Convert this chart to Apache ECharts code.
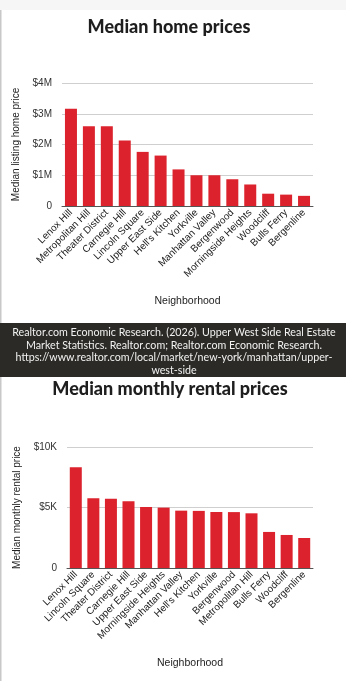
<!DOCTYPE html>
<html>
<head>
<meta charset="utf-8">
<script src="https://cdn.jsdelivr.net/npm/echarts@6/dist/echarts.min.js"></script>
<style>
html,body{margin:0;padding:0;background:#fff;}
#c{width:346px;height:681px;}
</style>
</head>
<body>
<div id="c"></div>
<script>
const homeCategories = ["Lenox Hill","Metropolitan Hill","Theater District","Carnegie Hill","Lincoln Square","Upper East Side","Hell's Kitchen","Yorkville","Manhattan Valley","Bergenwood","Morningside Heights","Woodcliff","Bulls Ferry","Bergenline"];
const homePrices = [3160000,2590000,2590000,2130000,1760000,1640000,1190000,1000000,1000000,870000,700000,400000,370000,330000];
const homeTicks = ["0","$1M","$2M","$3M","$4M"];

const rentCategories = ["Lenox Hill","Lincoln Square","Theater District","Carnegie Hill","Upper East Side","Morningside Heights","Manhattan Valley","Hell's Kitchen","Yorkville","Bergenwood","Metropolitan Hill","Bulls Ferry","Woodcliff","Bergenline"];
const rentPrices = [8320,5760,5730,5510,5040,4990,4740,4720,4630,4620,4520,2980,2730,2480];
const rentTicks = ["0","$5K","$10K"];

const titles = ["Median home prices","Median monthly rental prices"];
const sourceLines = [
  "Realtor.com Economic Research. (2026). Upper West Side Real Estate",
  "Market Statistics. Realtor.com; Realtor.com Economic Research.",
  "https://www.realtor.com/local/market/new-york/manhattan/upper-",
  "west-side"
];

const chart = echarts.init(document.getElementById('c'), null, {renderer:'canvas'});
const axisFont = 'Liberation Sans, Arial, sans-serif';
const barColor = '#dc232d';

function xAxisCfg(cats, idx){
  return {
    type:'category', gridIndex: idx, data: cats,
    axisTick:{show:false},
    axisLine:{lineStyle:{color:'#555',width:1}},
    axisLabel:{rotate:45, interval:0, fontSize:10, color:'#222', fontFamily:axisFont, margin:5},
    name:'Neighborhood', nameLocation:'middle', nameGap: 90,
    nameTextStyle:{fontSize:10.5, color:'#222', fontFamily:axisFont}
  };
}
function yAxisCfg(idx, max, interval, ticks, nm){
  return {
    type:'value', gridIndex: idx, min:0, max:max, interval:interval,
    axisLine:{show:false}, axisTick:{show:false},
    splitLine:{lineStyle:{color:'#cfcfcf',width:1}},
    axisLabel:{fontSize:10, color:'#333', fontFamily:axisFont, margin:10,
      formatter:function(v){ return ticks[Math.round(v/interval)]; }},
    name:nm, nameLocation:'middle', nameGap: 40,
    nameTextStyle:{fontSize:10, color:'#222', fontFamily:axisFont}
  };
}

const titleFont = '900 18px "Lato", "Open Sans", sans-serif';
const graphics = [
  {type:'rect', shape:{x:0,y:0,width:346,height:10}, style:{fill:'#f6f6f6'}, silent:true},
  {type:'rect', shape:{x:0,y:10,width:1.5,height:671}, style:{fill:'#c8c8c8'}, silent:true},
  {type:'text', x:169, y:27, style:{text:titles[0], font:titleFont, fill:'#1e1e1e', textAlign:'center', textVerticalAlign:'middle'}},
  {type:'text', x:170, y:389, style:{text:titles[1], font:titleFont, fill:'#1e1e1e', textAlign:'center', textVerticalAlign:'middle'}},
  {type:'rect', shape:{x:0,y:323,width:346,height:54}, style:{fill:'#2b2a26'}, silent:true}
];
const lineYs = [333,345.5,358,370.5];
sourceLines.forEach(function(t,i){
  graphics.push({type:'text', x:174, y:lineYs[i], style:{text:t, font:'10.7px "Lato", "Noto Sans", sans-serif', fill:'#f2f2f2', textAlign:'center', textVerticalAlign:'middle'}});
});

chart.setOption({
  animation:false,
  backgroundColor:'#ffffff',
  grid:[
    {left:62, right:33, top:83, height:123},
    {left:67, right:33, top:447, height:121}
  ],
  xAxis:[xAxisCfg(homeCategories,0), xAxisCfg(rentCategories,1)],
  yAxis:[
    yAxisCfg(0, 4000000, 1000000, homeTicks, 'Median listing home price'),
    yAxisCfg(1, 10000, 5000, rentTicks, 'Median monthly rental price')
  ],
  series:[
    {type:'bar', xAxisIndex:0, yAxisIndex:0, data:homePrices, barWidth:12, itemStyle:{color:barColor}},
    {type:'bar', xAxisIndex:1, yAxisIndex:1, data:rentPrices, barWidth:12, itemStyle:{color:barColor}}
  ],
  graphic:graphics
});
</script>
</body>
</html>
